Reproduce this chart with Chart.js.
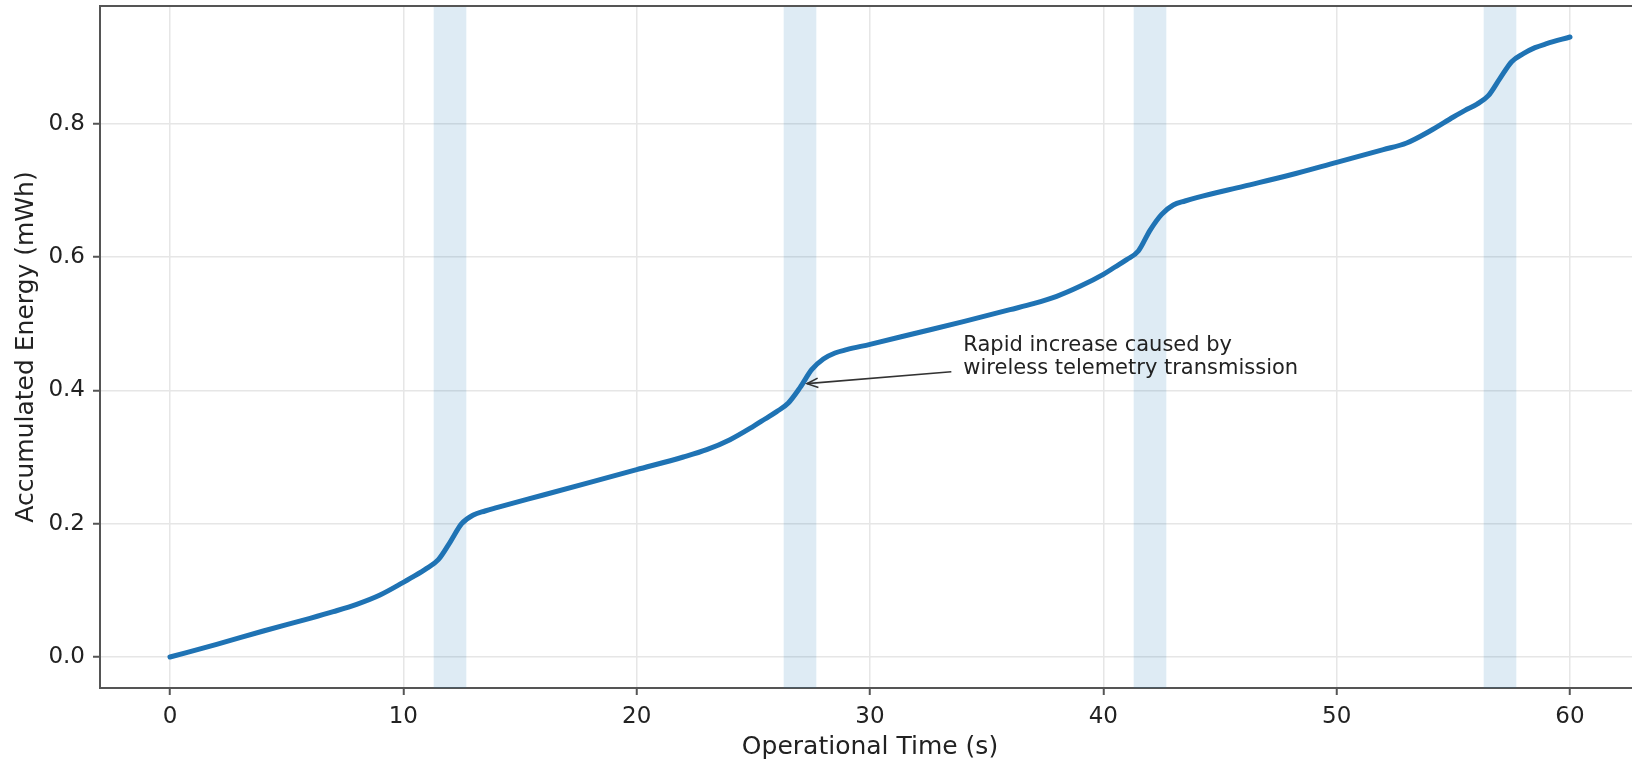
<!DOCTYPE html>
<html>
<head>
  <title>Accumulated Energy</title>
  <script src="https://cdn.jsdelivr.net/npm/chart.js"></script>
  <style>
    html, body {
      margin: 0;
      padding: 0;
      background: #fff;
      overflow: hidden;
    }
    .chart-container {
      position: absolute;
      left: 0;
      top: 0;
      width: 1660px;
      height: 780px;
    }
  </style>
</head>
<body>

  <div class="chart-container">
    <canvas id="energyChart"></canvas>
  </div>

  <script>
    // Curve (time in s, energy in mWh)
    const timeS = [0, 2, 4, 6, 7, 8, 9, 10, 10.5, 11, 11.5, 12, 12.5, 13, 13.5, 14, 16, 18, 20,
      22, 23, 24, 25, 25.5, 26, 26.5, 27, 27.5, 28, 28.5, 29, 30, 32, 34, 36, 37, 38, 39, 40,
      40.5, 41, 41.5, 42, 42.5, 43, 43.5, 44, 46, 48, 50, 52, 53, 54, 55, 55.5, 56, 56.5, 57,
      57.5, 58, 58.5, 59, 60];
    const energyMWh = [0, 0.019, 0.039, 0.058, 0.068, 0.079, 0.093, 0.112, 0.122, 0.133, 0.146,
      0.172, 0.200, 0.213, 0.219, 0.224, 0.243, 0.262, 0.281, 0.300, 0.311, 0.326, 0.346, 0.357,
      0.368, 0.381, 0.404, 0.431, 0.447, 0.456, 0.461, 0.469, 0.486, 0.503, 0.521, 0.530, 0.541,
      0.556, 0.574, 0.585, 0.596, 0.609, 0.640, 0.664, 0.678, 0.684, 0.689, 0.706, 0.723, 0.742,
      0.761, 0.771, 0.789, 0.810, 0.820, 0.829, 0.842, 0.868, 0.893, 0.905, 0.914, 0.920, 0.930];

    // Shaded transmission windows
    const burstStart = [11.3, 26.3, 41.3, 56.3];
    const burstEnd = [12.7, 27.7, 42.7, 57.7];

    // Tick labels
    const xTicks = [0, 10, 20, 30, 40, 50, 60];
    const yTicks = [0, 0.2, 0.4, 0.6, 0.8];

    // Annotation
    const noteLines = ['Rapid increase caused by', 'wireless telemetry transmission'];
    const noteAt = [34, 0.45];
    const noteTarget = [27.3, 0.41];

    const font = 'DejaVu Sans';
    const spineColor = '#555';

    const points = timeS.map((t, i) => ({ x: t, y: energyMWh[i] }));

    // light blue bands behind the curve
    const bandsPlugin = {
      id: 'bands',
      beforeDatasetsDraw(chart) {
        const { ctx, chartArea, scales } = chart;
        ctx.save();
        ctx.fillStyle = 'rgba(31, 119, 180, 0.15)';
        burstStart.forEach((s, i) => {
          const x0 = scales.x.getPixelForValue(s);
          const x1 = scales.x.getPixelForValue(burstEnd[i]);
          ctx.fillRect(x0, chartArea.top, x1 - x0, chartArea.bottom - chartArea.top);
        });
        ctx.restore();
      }
    };

    // top/right spines plus the arrow note
    const framePlugin = {
      id: 'frame',
      afterDraw(chart) {
        const { ctx, chartArea, scales } = chart;
        ctx.save();
        ctx.strokeStyle = spineColor;
        ctx.lineWidth = 2;
        ctx.beginPath();
        ctx.moveTo(chartArea.left - 1, chartArea.top);
        ctx.lineTo(chartArea.right, chartArea.top);
        ctx.lineTo(chartArea.right, chartArea.bottom);
        ctx.stroke();

        // text, vertically centred on its anchor
        const tx = scales.x.getPixelForValue(noteAt[0]);
        const ty = scales.y.getPixelForValue(noteAt[1]);
        ctx.font = '21px "' + font + '"';
        ctx.fillStyle = '#222';
        ctx.textAlign = 'left';
        ctx.textBaseline = 'alphabetic';
        ctx.fillText(noteLines[0], tx, ty - 6);
        ctx.fillText(noteLines[1], tx, ty + 17);

        // arrow from text box edge to the curve
        const w = Math.max(...noteLines.map(l => ctx.measureText(l).width));
        const cx = tx + w / 2, cy = ty;
        const ax = scales.x.getPixelForValue(noteTarget[0]);
        const ay = scales.y.getPixelForValue(noteTarget[1]);
        const sx = tx - 12;
        const sy = cy + (ay - cy) * (cx - sx) / (cx - ax);
        ctx.strokeStyle = '#333';
        ctx.lineWidth = 1.6;
        ctx.beginPath();
        ctx.moveTo(sx, sy);
        ctx.lineTo(ax, ay);
        ctx.stroke();
        const ang = Math.atan2(ay - sy, ax - sx);
        ctx.beginPath();
        ctx.moveTo(ax - 12 * Math.cos(ang - 0.4), ay - 12 * Math.sin(ang - 0.4));
        ctx.lineTo(ax, ay);
        ctx.lineTo(ax - 12 * Math.cos(ang + 0.4), ay - 12 * Math.sin(ang + 0.4));
        ctx.stroke();
        ctx.restore();
      }
    };

    const ctx = document.getElementById('energyChart').getContext('2d');
    new Chart(ctx, {
      type: 'line',
      data: {
        datasets: [{
          label: 'Accumulated Energy',
          data: points,
          borderColor: '#1f73b4',
          borderWidth: 5,
          borderCapStyle: 'round',
          pointRadius: 0,
          fill: false,
          cubicInterpolationMode: 'monotone'
        }]
      },
      options: {
        responsive: true,
        maintainAspectRatio: false,
        animation: false,
        layout: { padding: { top: 6, right: 20, left: 0, bottom: 0 } },
        plugins: {
          legend: { display: false },
          tooltip: { enabled: false }
        },
        scales: {
          x: {
            type: 'linear',
            min: -3,
            max: 63,
            afterFit(scale) {
              scale.height = 92;
              scale.paddingLeft = 0;
              scale.paddingRight = 0;
            },
            afterBuildTicks(scale) { scale.ticks = xTicks.map(v => ({ value: v })); },
            grid: {
              color: '#e6e6e6',
              lineWidth: 1.5,
              tickColor: spineColor,
              tickLength: 7,
              tickWidth: 2
            },
            border: { color: spineColor, width: 2 },
            ticks: {
              padding: 8,
              maxRotation: 0,
              color: '#222',
              font: { family: font, size: 23 },
              callback: v => String(v)
            },
            title: {
              display: true,
              text: 'Operational Time (s)',
              color: '#222',
              font: { family: font, size: 25 },
              padding: { top: 0, bottom: 18 }
            }
          },
          y: {
            min: -0.0465,
            max: 0.9765,
            afterFit(scale) {
              scale.width = 100;
              scale.paddingTop = 0;
              scale.paddingBottom = 0;
            },
            afterBuildTicks(scale) { scale.ticks = yTicks.map(v => ({ value: v })); },
            grid: {
              color: '#e6e6e6',
              lineWidth: 1.5,
              tickColor: spineColor,
              tickLength: 7,
              tickWidth: 2
            },
            border: { color: spineColor, width: 2 },
            ticks: {
              padding: 8,
              color: '#222',
              font: { family: font, size: 23 },
              callback: v => v.toFixed(1)
            },
            title: {
              display: true,
              text: 'Accumulated Energy (mWh)',
              color: '#222',
              font: { family: font, size: 25 },
              padding: { top: 11, bottom: 0 }
            }
          }
        }
      },
      plugins: [bandsPlugin, framePlugin]
    });
  </script>

</body>
</html>
